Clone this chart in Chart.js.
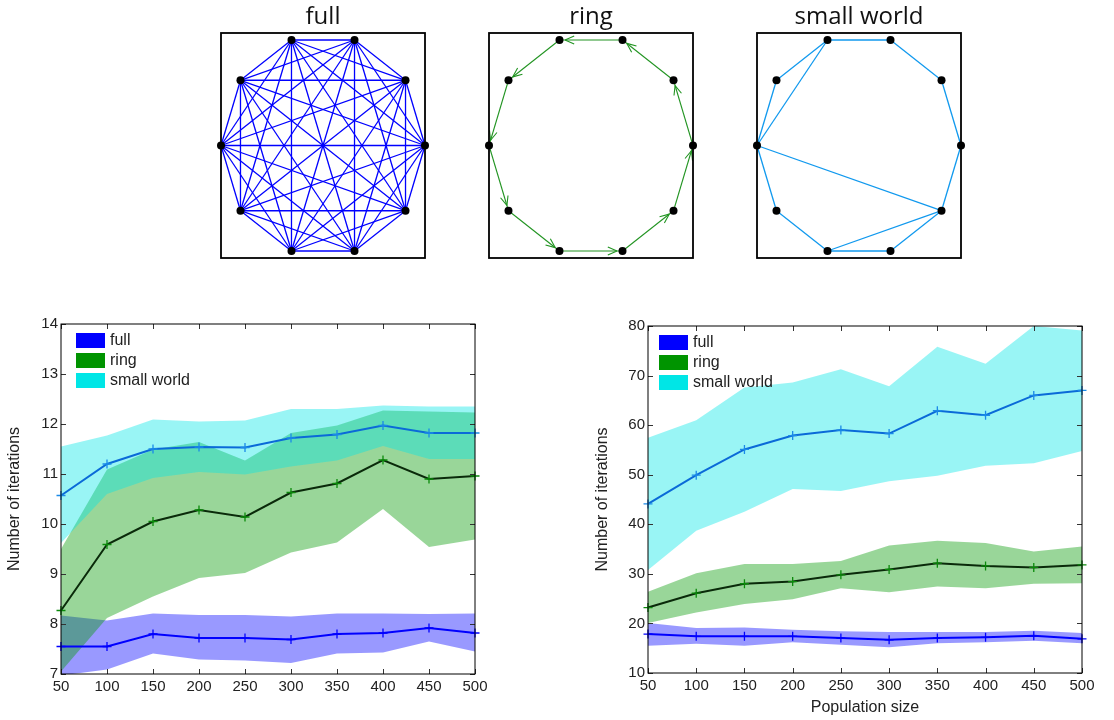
<!DOCTYPE html>
<html>
<head>
<meta charset="utf-8">
<script src="https://cdn.jsdelivr.net/npm/chart.js@4.4.0/dist/chart.umd.min.js"></script>
<style>
  body { margin: 0; background: #fff; width: 1114px; height: 720px; position: relative; overflow: hidden; }
  canvas { position: absolute; }
</style>
</head>
<body>
<canvas id="netFull" width="246" height="270" style="left:200px;top:0"></canvas>
<canvas id="netRing" width="246" height="270" style="left:468px;top:0"></canvas>
<canvas id="netSmall" width="246" height="270" style="left:736px;top:0"></canvas>
<canvas id="iterLeft" width="500" height="420" style="left:0;top:300px"></canvas>
<canvas id="iterRight" width="526" height="420" style="left:588px;top:300px"></canvas>
<script>
// NETWORKS (10 nodes on a circle, node 0 on the right, counter-clockwise)
const nodeX = [1, 0.809, 0.309, -0.309, -0.809, -1, -0.809, -0.309, 0.309, 0.809];
const nodeY = [0, 0.588, 0.951, 0.951, 0.588, 0, -0.588, -0.951, -0.951, -0.588];
const ringEdges = [[2, 3], [3, 4], [4, 5], [5, 6], [6, 7], [7, 8], [8, 9], [9, 0], [0, 1], [1, 2]];
const shortcutEdges = [[3, 5], [5, 9], [9, 7]];
const smallWorldEdges = ringEdges.concat(shortcutEdges);
const fullEdges = [];
nodeX.forEach((_, i) => {
  for (let j = i + 1; j < nodeX.length; j++) fullEdges.push([i, j]);
});

// ITERATIONS
const popSizes = [50, 100, 150, 200, 250, 300, 350, 400, 450, 500];
const seriesNames = ["full", "ring", "small world"];

const fullMeanA = [7.55, 7.55, 7.80, 7.72, 7.72, 7.69, 7.80, 7.82, 7.92, 7.82];
const fullUpperA = [8.17, 8.07, 8.21, 8.18, 8.18, 8.15, 8.21, 8.21, 8.20, 8.21];
const fullLowerA = [6.97, 7.09, 7.41, 7.29, 7.27, 7.22, 7.41, 7.43, 7.65, 7.45];
const ringMeanA = [8.27, 9.59, 10.05, 10.28, 10.14, 10.63, 10.81, 11.28, 10.90, 10.96];
const ringUpperA = [9.50, 11.09, 11.49, 11.64, 11.27, 11.82, 11.97, 12.27, 12.25, 12.23];
const ringLowerA = [7.05, 8.12, 8.55, 8.92, 9.02, 9.43, 9.63, 10.30, 9.54, 9.69];
const swMeanA = [10.57, 11.20, 11.50, 11.54, 11.53, 11.72, 11.79, 11.97, 11.82, 11.82];
const swUpperA = [11.55, 11.77, 12.09, 12.05, 12.07, 12.30, 12.30, 12.37, 12.35, 12.35];
const swLowerA = [9.62, 10.60, 10.92, 11.04, 10.99, 11.15, 11.27, 11.56, 11.30, 11.30];

const fullMeanB = [17.85, 17.4, 17.4, 17.4, 17.05, 16.7, 17.05, 17.2, 17.5, 16.9];
const fullUpperB = [20.1, 19.1, 19.2, 18.7, 18.4, 18.25, 18.25, 18.25, 18.5, 18.05];
const fullLowerB = [15.5, 15.9, 15.5, 16.2, 15.7, 15.2, 16.0, 16.2, 16.5, 16.0];
const ringMeanB = [23.2, 26.1, 28.0, 28.45, 29.8, 30.9, 32.15, 31.6, 31.3, 31.8];
const ringUpperB = [26.4, 30.1, 32.0, 32.0, 32.6, 35.7, 36.7, 36.2, 34.5, 35.5];
const ringLowerB = [20.1, 22.2, 23.9, 24.9, 27.1, 26.3, 27.45, 27.1, 28.0, 28.1];
const swMeanB = [44.1, 49.9, 55.1, 57.9, 59.0, 58.3, 62.9, 62.0, 66.0, 67.0];
const swUpperB = [57.45, 61.0, 67.6, 68.6, 71.3, 67.85, 75.8, 72.4, 80.0, 79.1];
const swLowerB = [30.8, 38.7, 42.55, 47.1, 46.7, 48.7, 49.8, 51.8, 52.3, 54.8];

const legendColors = ["#0000ff", "#009400", "#00e6e6"];
const bandColors = ["rgba(0,0,255,0.4)", "rgba(0,153,0,0.4)", "rgba(0,230,230,0.4)"];
const lineColors = ["#0000ff", "#0a2a0a", "#0a6ad8"];
const markerColors = ["#0000ff", "#0a8a0a", "#1a8ae8"];

const FONT = '"Liberation Sans", Arial, Helvetica, sans-serif';

// box around the plot area
const frameBox = {
  id: "frameBox",
  afterDraw(chart, args, opts) {
    const { ctx, chartArea: a } = chart;
    ctx.save();
    ctx.strokeStyle = "#000";
    ctx.lineWidth = opts.width || 1;
    ctx.strokeRect(a.left, a.top, a.width, a.height);
    ctx.restore();
  },
};

// matlab style ticks, inside on every side
const innerTicks = {
  id: "innerTicks",
  afterDraw(chart) {
    const { ctx, chartArea: a, scales: { x, y } } = chart;
    ctx.save();
    ctx.strokeStyle = "#333";
    ctx.lineWidth = 1;
    ctx.beginPath();
    x.ticks.forEach((t) => {
      const px = Math.round(x.getPixelForValue(t.value)) + 0.5;
      ctx.moveTo(px, a.bottom); ctx.lineTo(px, a.bottom - 5);
      ctx.moveTo(px, a.top); ctx.lineTo(px, a.top + 5);
    });
    y.ticks.forEach((t) => {
      const py = Math.round(y.getPixelForValue(t.value)) + 0.5;
      ctx.moveTo(a.left, py); ctx.lineTo(a.left + 5, py);
      ctx.moveTo(a.right, py); ctx.lineTo(a.right - 5, py);
    });
    ctx.stroke();
    ctx.restore();
  },
};

// legend sitting in the upper left of the plot area
const insideLegend = {
  id: "insideLegend",
  afterDraw(chart, args, opts) {
    const { ctx, chartArea: a } = chart;
    ctx.save();
    ctx.font = "16px " + FONT;
    ctx.textBaseline = "middle";
    seriesNames.forEach((name, i) => {
      const top = a.top + 9 + i * 20;
      ctx.fillStyle = legendColors[i];
      ctx.fillRect(a.left + opts.x, top, 29, 15);
      ctx.fillStyle = "#222";
      ctx.fillText(name, a.left + opts.x + 34, top + 8);
    });
    ctx.restore();
  },
};

// open arrow heads for the directed ring
const arrowHeads = {
  id: "arrowHeads",
  afterDatasetsDraw(chart, args, opts) {
    const { ctx, scales: { x, y } } = chart;
    ctx.save();
    ctx.strokeStyle = opts.color;
    ctx.lineWidth = 1.1;
    opts.edges.forEach(([from, to]) => {
      const x0 = x.getPixelForValue(nodeX[from]), y0 = y.getPixelForValue(nodeY[from]);
      const x1 = x.getPixelForValue(nodeX[to]), y1 = y.getPixelForValue(nodeY[to]);
      const ang = Math.atan2(y1 - y0, x1 - x0);
      const tx = x1 - Math.cos(ang) * 5.5, ty = y1 - Math.sin(ang) * 5.5;
      ctx.beginPath();
      [-1, 1].forEach((s) => {
        ctx.moveTo(tx, ty);
        ctx.lineTo(tx - 10 * Math.cos(ang + s * 0.4), ty - 10 * Math.sin(ang + s * 0.4));
      });
      ctx.stroke();
    });
    ctx.restore();
  },
};

function networkChart(id, title, edges, color, width, extraPlugins, extraOpts) {
  const datasets = edges.map(([a, b]) => ({
    data: [{ x: nodeX[a], y: nodeY[a] }, { x: nodeX[b], y: nodeY[b] }],
    showLine: true,
    borderColor: color,
    borderWidth: width,
    pointRadius: 0,
    clip: false,
    order: 1,
  }));
  datasets.push({
    data: nodeX.map((v, i) => ({ x: v, y: nodeY[i] })),
    pointRadius: 4,
    pointBackgroundColor: "#000",
    pointBorderWidth: 0,
    clip: false,
    order: 0,
  });
  return new Chart(document.getElementById(id), {
    type: "scatter",
    data: { datasets },
    options: {
      responsive: false,
      animation: false,
      layout: { padding: { left: 21, right: 21, top: 0, bottom: 12 } },
      scales: {
        x: { display: false, min: -1, max: 1 },
        y: { display: false, min: -1.014, max: 1.014 },
      },
      plugins: Object.assign({
        legend: { display: false },
        tooltip: { enabled: false },
        title: {
          display: true,
          text: title,
          color: "#111",
          font: { family: '"Open Sans", "Noto Sans", sans-serif', size: 24, weight: "normal", lineHeight: 1.2 },
          padding: { top: 3, bottom: 1.2 },
        },
        frameBox: { width: 1.8 },
      }, extraOpts || {}),
    },
    plugins: [frameBox].concat(extraPlugins || []),
  });
}

networkChart("netFull", "full", fullEdges, "#0000ff", 1.3);
networkChart("netRing", "ring", ringEdges, "#229422", 1.1, [arrowHeads], {
  arrowHeads: { edges: ringEdges, color: "#229422" },
});
networkChart("netSmall", "small world", smallWorldEdges, "#1199ee", 1.3);

function pts(values) {
  return values.map((v, i) => ({ x: popSizes[i], y: v }));
}

function iterationChart(id, series, y, box) {
  const datasets = [];
  series.forEach((s, i) => {
    datasets.push({
      data: pts(s.upper), borderWidth: 0, pointRadius: 0,
      backgroundColor: bandColors[i], fill: "+1", order: 3 - i,
    });
    datasets.push({
      data: pts(s.lower), borderWidth: 0, pointRadius: 0,
      backgroundColor: bandColors[i], fill: false, order: 3 - i,
    });
  });
  series.forEach((s, i) => {
    datasets.push({
      data: pts(s.mean), borderColor: lineColors[i], borderWidth: 2,
      pointStyle: "cross", pointRadius: 4.5, pointBorderWidth: 1.3,
      pointBorderColor: markerColors[i], fill: false, clip: 8, order: 0,
    });
  });
  return new Chart(document.getElementById(id), {
    type: "line",
    data: { datasets },
    options: {
      responsive: false,
      animation: false,
      layout: { padding: { left: 0, top: box.top, right: box.right, bottom: 0 } },
      elements: { line: { tension: 0 } },
      scales: {
        x: {
          type: "linear",
          min: 50, max: 500,
          afterFit: (scale) => { scale.height = box.xHeight; },
          grid: { display: false, drawTicks: false },
          border: { display: false },
          ticks: {
            stepSize: 50, padding: 4, color: "#222",
            font: { family: FONT, size: 15 },
            maxRotation: 0, autoSkip: false,
          },
          title: {
            display: !!box.xTitle, text: box.xTitle || "", color: "#222",
            font: { family: FONT, size: 16, lineHeight: 1.2 },
            padding: { top: 0, bottom: 2.4 },
          },
        },
        y: {
          min: y.min, max: y.max,
          afterFit: (scale) => { scale.width = box.yWidth; },
          grid: { display: false, drawTicks: false },
          border: { display: false },
          ticks: {
            stepSize: y.step, padding: 3, color: "#222",
            font: { family: FONT, size: 15 },
          },
          title: {
            display: true, text: "Number of iterations", color: "#222",
            font: { family: FONT, size: 16, lineHeight: 1.2 },
            padding: { top: 5, bottom: 0 },
          },
        },
      },
      plugins: {
        legend: { display: false },
        tooltip: { enabled: false },
        insideLegend: { x: box.legendX },
        frameBox: { width: 1 },
      },
    },
    plugins: [innerTicks, frameBox, insideLegend],
  });
}

iterationChart("iterLeft", [
  { mean: fullMeanA, upper: fullUpperA, lower: fullLowerA },
  { mean: ringMeanA, upper: ringUpperA, lower: ringLowerA },
  { mean: swMeanA, upper: swUpperA, lower: swLowerA },
], { min: 7, max: 14, step: 1 },
{ top: 24, right: 25, xHeight: 46, yWidth: 61, legendX: 15 });

iterationChart("iterRight", [
  { mean: fullMeanB, upper: fullUpperB, lower: fullLowerB },
  { mean: ringMeanB, upper: ringUpperB, lower: ringLowerB },
  { mean: swMeanB, upper: swUpperB, lower: swLowerB },
], { min: 10, max: 80, step: 10 },
{ top: 26, right: 32, xHeight: 47, yWidth: 60, legendX: 11, xTitle: "Population size" });
</script>
</body>
</html>
